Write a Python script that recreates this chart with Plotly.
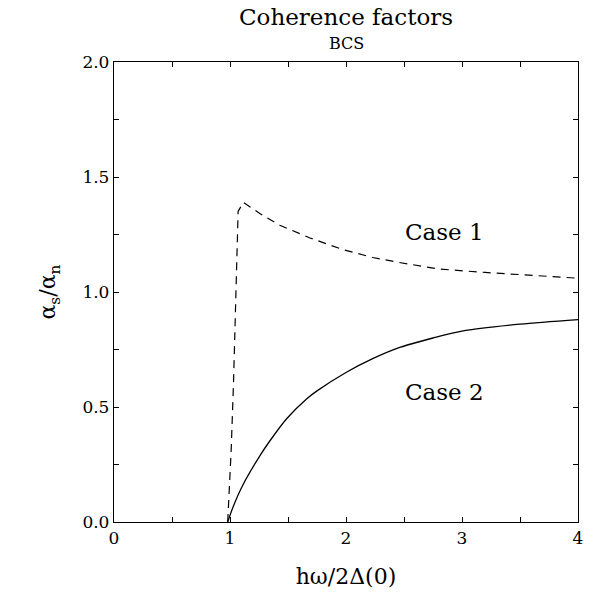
import plotly.graph_objects as go

# Case 1 (dashed)
case1_x = [0.98, 1.01, 1.03, 1.045, 1.06, 1.07, 1.115, 1.26, 1.43, 1.69, 1.97, 2.23, 2.44, 2.8, 3.2, 3.67, 4.0]
case1_y = [0.0, 0.31, 0.60, 0.89, 1.18, 1.35, 1.39, 1.34, 1.29, 1.235, 1.185, 1.15, 1.13, 1.10, 1.085, 1.07, 1.06]

# Case 2 (solid)
case2_x = [0.98, 1.03, 1.11, 1.26, 1.34, 1.49, 1.66, 1.75, 2.0, 2.23, 2.47, 2.75, 3.0, 3.5, 4.0]
case2_y = [0.0, 0.07, 0.16, 0.29, 0.35, 0.45, 0.535, 0.57, 0.65, 0.71, 0.76, 0.80, 0.83, 0.86, 0.88]

x_ticks = [0, 1, 2, 3, 4]
y_ticks = [0.0, 0.5, 1.0, 1.5, 2.0]
y_ticktext = ["0.0", "0.5", "1.0", "1.5", "2.0"]

serif = "DejaVu Serif, Liberation Serif, serif"

fig = go.Figure()
fig.add_trace(go.Scatter(x=case1_x, y=case1_y, mode="lines",
                         line=dict(color="black", width=1.2, dash="8px,6px"),
                         showlegend=False))
fig.add_trace(go.Scatter(x=case2_x, y=case2_y, mode="lines",
                         line=dict(color="black", width=1.3, shape="spline", smoothing=0.8),
                         showlegend=False))

fig.add_annotation(x=2.85, y=1.26, text="Case 1", showarrow=False,
                   font=dict(family=serif, size=23, color="black"))
fig.add_annotation(x=2.85, y=0.565, text="Case 2", showarrow=False,
                   font=dict(family=serif, size=23, color="black"))

fig.add_annotation(xref="paper", yref="paper", x=0.5, y=1.098, yanchor="middle",
                   text="Coherence factors", showarrow=False,
                   font=dict(family=serif, size=23, color="black"))
fig.add_annotation(xref="paper", yref="paper", x=0.5, y=1.041, yanchor="middle",
                   text="BCS", showarrow=False,
                   font=dict(family=serif, size=16, color="black"))

axis_common = dict(showline=True, linecolor="black", linewidth=1.3, mirror="allticks",
                   ticks="inside", ticklen=5, tickcolor="black", showgrid=False,
                   zeroline=False, tickfont=dict(family=serif, size=17, color="black"))

fig.update_xaxes(range=[0, 4], tickvals=x_ticks,
                 minor=dict(dtick=0.5, ticks="inside", ticklen=5, tickcolor="black"),
                 title=dict(text="hω/2Δ(0)", font=dict(family=serif, size=22, color="black"), standoff=22),
                 **axis_common)
fig.update_yaxes(range=[0, 2], tickvals=y_ticks, ticktext=y_ticktext,
                 minor=dict(dtick=0.25, ticks="inside", ticklen=5, tickcolor="black"),
                 title=dict(text="α<sub>s</sub>/α<sub>n</sub>", font=dict(family=serif, size=22, color="black"), standoff=20),
                 **axis_common)

fig.update_layout(width=595, height=598, margin=dict(l=114, r=17, t=62, b=76),
                  plot_bgcolor="white", paper_bgcolor="white")

fig.write_html("out.html")
